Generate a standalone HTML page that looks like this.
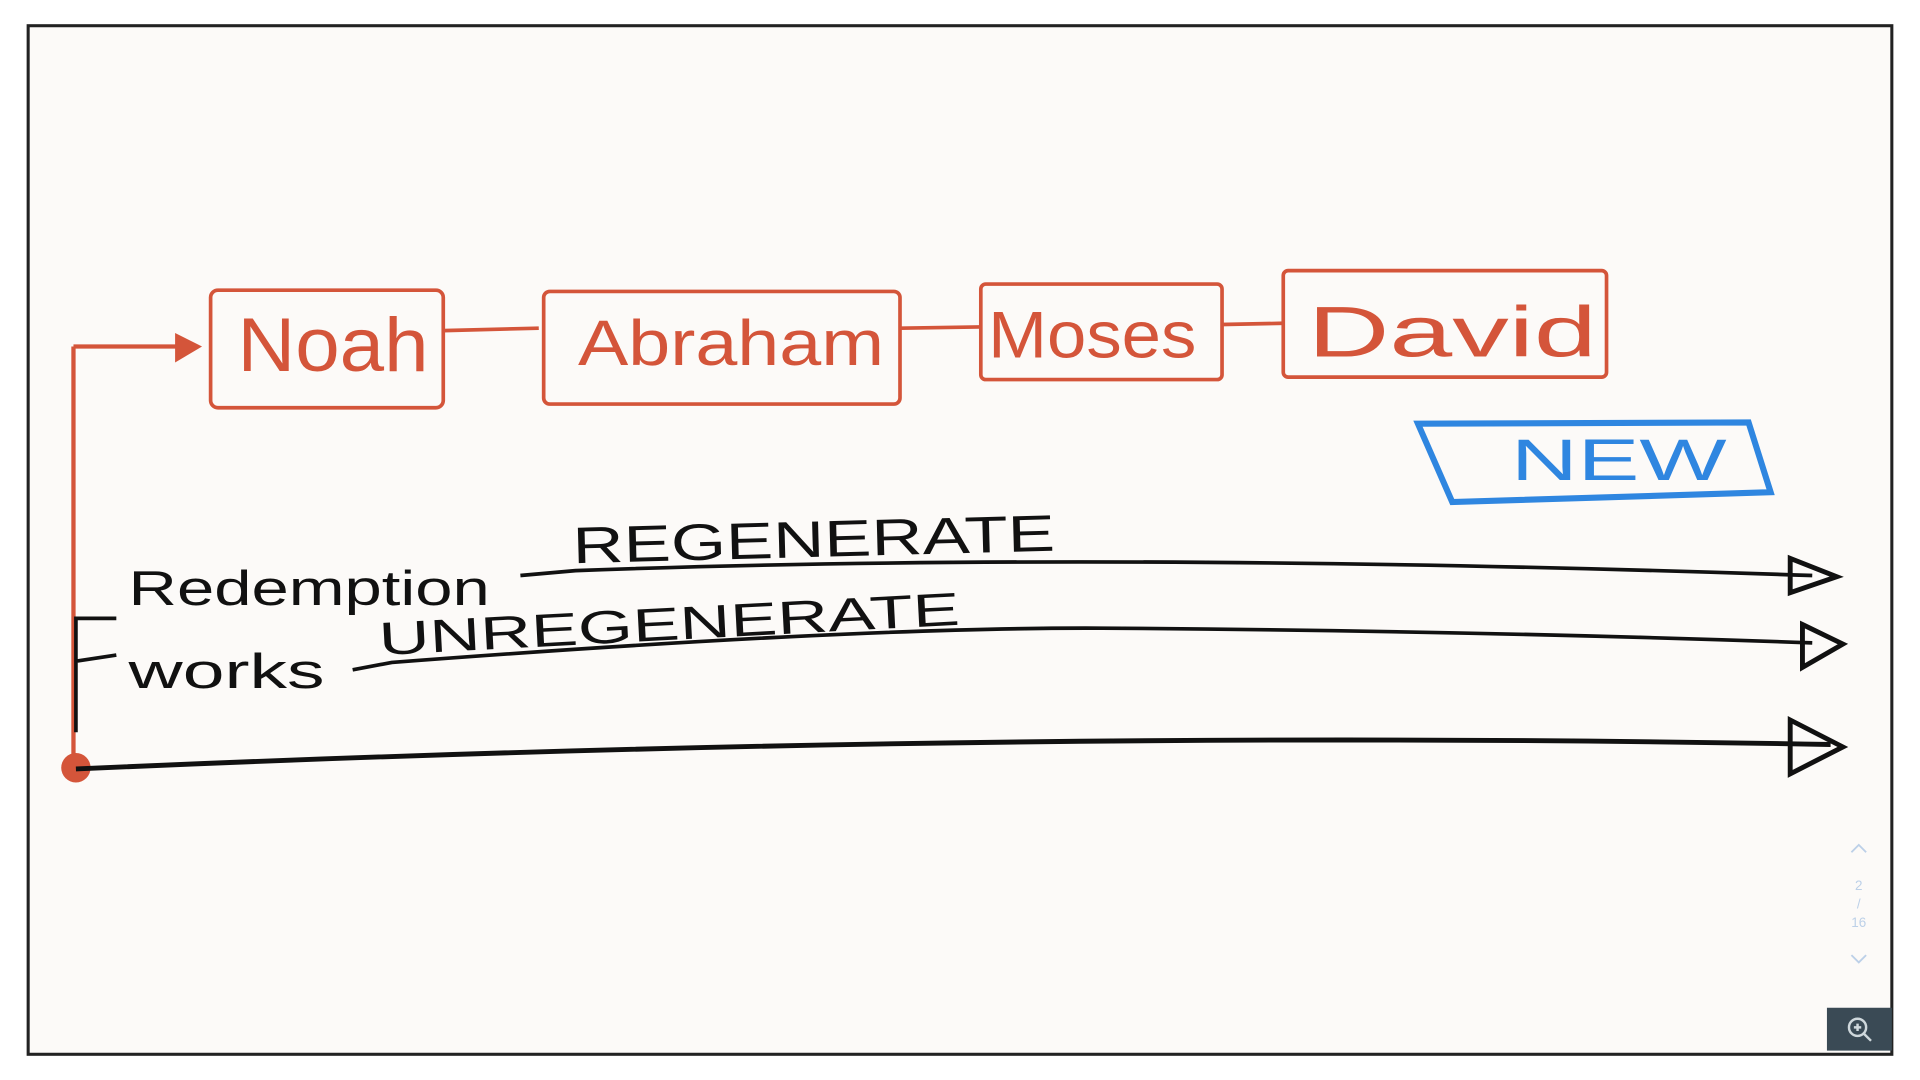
<!DOCTYPE html>
<html><head><meta charset="utf-8"><style>
html,body{margin:0;padding:0;background:#fff;width:1920px;height:1080px;overflow:hidden}
svg{display:block}
text{font-family:"Liberation Sans",sans-serif}
</style></head><body>
<svg width="1920" height="1080" viewBox="0 0 1568 882" preserveAspectRatio="none">
<rect x="0" y="0" width="1568" height="882" fill="#fff"/>
<rect x="23" y="21" width="1522" height="840" fill="#fcfaf8" stroke="#222" stroke-width="2.5"/>
<g fill="none" stroke="#d4553a" stroke-width="3">
<rect x="172" y="237" width="190" height="96" rx="6"/>
<rect x="444" y="238" width="291" height="92" rx="5"/>
<rect x="801" y="232" width="197" height="78" rx="4"/>
<rect x="1048" y="221" width="264" height="87" rx="4"/>
<path d="M362 270 L440 268 M735 268 L800 267 M998 265 L1048 264"/>
<path d="M60 283 L160 283 M60 283 L60 625" stroke-width="3.5"/>
</g>
<path d="M143 272 L165 283 L143 296 Z" fill="#d4553a"/>
<circle cx="62" cy="627" r="12" fill="#d4553a"/>
<g fill="#d4553a" font-size="62">
<text x="194" y="303" textLength="156" lengthAdjust="spacingAndGlyphs">Noah</text>
<text x="472" y="298" font-size="52" textLength="250" lengthAdjust="spacingAndGlyphs">Abraham</text>
<text x="807" y="292" font-size="54" textLength="170" lengthAdjust="spacingAndGlyphs">Moses</text>
<text x="1068" y="291" font-size="58" textLength="236" lengthAdjust="spacingAndGlyphs">David</text>
</g>
<path d="M1158 346 L1428 345 L1446 402 L1186 410 Z" fill="none" stroke="#2f86e0" stroke-width="5"/>
<text x="1234" y="392" font-size="48" fill="#2f86e0" textLength="176" lengthAdjust="spacingAndGlyphs">NEW</text>
<g stroke="#111" fill="none" stroke-width="3">
<path d="M425 470 L470 466 Q900 450 1480 470"/>
<path d="M288 547 L320 541 Q700 512 900 513 Q1200 515 1480 525"/>
<path d="M62 628 Q800 595 1495 608" stroke-width="4"/>
<path d="M95 505 L62 505 L62 598 M62 540 L95 535"/>
</g>
<path d="M1462 456 L1500 471 L1462 484 Z M1472 510 L1505 526 L1472 545 Z M1462 588 L1505 610 L1462 632 Z" fill="none" stroke="#111" stroke-width="4"/>
<g fill="#111">
<text x="105" y="494" font-size="40" textLength="295" lengthAdjust="spacingAndGlyphs">Redemption</text>
<text x="105" y="562" font-size="40" textLength="160" lengthAdjust="spacingAndGlyphs">works</text>
<text x="468" y="460" font-size="42" textLength="394" lengthAdjust="spacingAndGlyphs" transform="rotate(-1.5 468 460)">REGENERATE</text>
<text x="310" y="535" font-size="38" textLength="475" lengthAdjust="spacingAndGlyphs" transform="rotate(-3 310 535)">UNREGENERATE</text>
</g>
<g fill="#bcd0e8" font-size="11" text-anchor="middle">
<text x="1518" y="727">2</text><text x="1518" y="742">/</text><text x="1518" y="757">16</text>
</g>
<path d="M1512 696 L1518 690 L1524 696 M1512 780 L1518 786 L1524 780" stroke="#bcd0e8" fill="none" stroke-width="1.5"/>
<rect x="1492" y="823" width="53" height="35" fill="#3a4a55"/>
<circle cx="1517" cy="839" r="7" fill="none" stroke="#cfd8dc" stroke-width="2"/>
<path d="M1522 844 L1528 850 M1514 839 L1520 839 M1517 836 L1517 842" stroke="#cfd8dc" stroke-width="2"/>
</svg>
</body></html>
